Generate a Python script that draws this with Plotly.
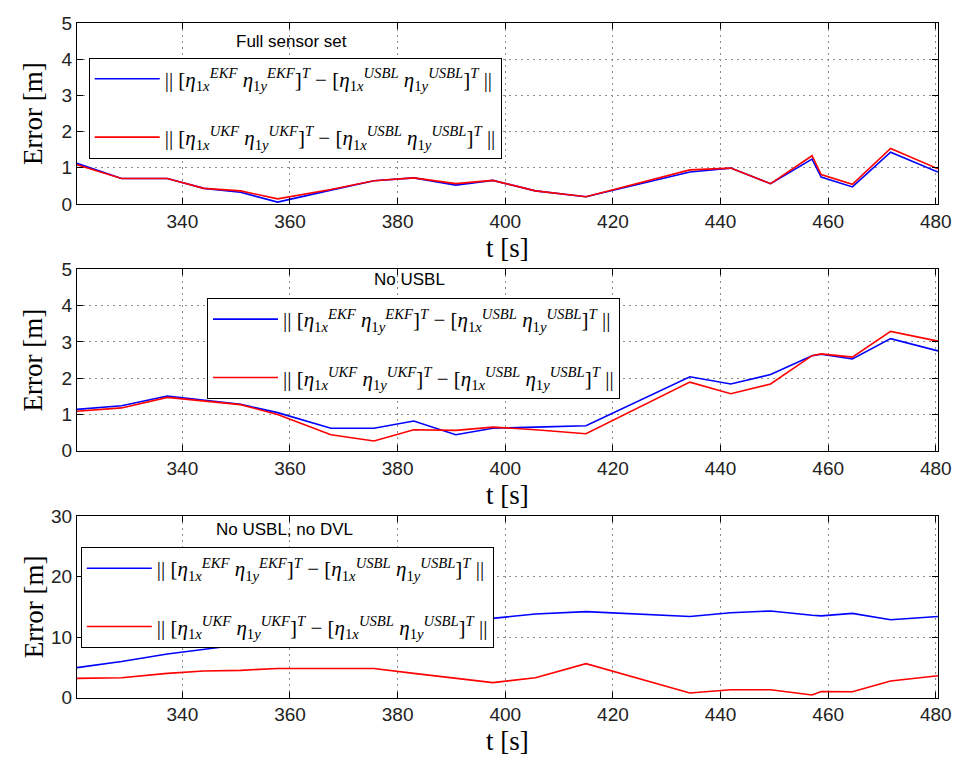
import plotly.graph_objects as go

# time samples [s]
t = [320.4, 328.7, 337.2, 344.0, 350.8, 357.7, 367.6, 375.6, 383.0, 390.8, 397.7,
     405.6, 415.0, 434.3, 441.9, 449.3, 457.0, 458.7, 464.5, 471.6, 480.4]

# Full sensor set
ekf_full = [1.12, 0.70, 0.70, 0.43, 0.32, 0.05, 0.38, 0.64, 0.72, 0.52, 0.65,
            0.36, 0.20, 0.88, 0.99, 0.56, 1.24, 0.74, 0.47, 1.43, 0.88]
ukf_full = [1.08, 0.70, 0.70, 0.43, 0.36, 0.14, 0.40, 0.64, 0.72, 0.56, 0.65,
            0.36, 0.20, 0.94, 0.99, 0.56, 1.33, 0.81, 0.54, 1.53, 0.97]

# No USBL
ekf_nousbl = [1.14, 1.24, 1.51, 1.40, 1.28, 1.05, 0.62, 0.62, 0.82, 0.44, 0.62,
              0.65, 0.69, 2.04, 1.84, 2.10, 2.62, 2.66, 2.53, 3.09, 2.75]
ukf_nousbl = [1.09, 1.18, 1.47, 1.38, 1.27, 1.00, 0.44, 0.27, 0.58, 0.56, 0.65,
              0.58, 0.47, 1.89, 1.57, 1.84, 2.62, 2.67, 2.58, 3.29, 3.02]

# No USBL, no DVL
ekf_nodvl = [4.95, 5.97, 7.20, 8.00, 8.80, 9.50, 10.40, 11.10, 11.80, 12.50, 13.00,
             13.80, 14.20, 13.40, 14.00, 14.30, 13.60, 13.50, 13.90, 12.85, 13.40]
ukf_nodvl = [3.17, 3.28, 4.00, 4.40, 4.50, 4.80, 4.80, 4.80, 4.00, 3.20, 2.47,
             3.28, 5.60, 0.75, 1.30, 1.30, 0.43, 1.00, 0.97, 2.74, 3.60]

panel_titles = ["Full sensor set", "No USBL", "No USBL, no DVL"]
x_ticks = [340, 360, 380, 400, 420, 440, 460, 480]

label_ekf = ("|| [<i>η</i><sub>1<i>x</i></sub><sup><i>EKF</i></sup> <i>η</i><sub>1<i>y</i></sub><sup><i>EKF</i></sup>]<sup><i>T</i></sup>"
             " − [<i>η</i><sub>1<i>x</i></sub><sup><i>USBL</i></sup> <i>η</i><sub>1<i>y</i></sub><sup><i>USBL</i></sup>]<sup><i>T</i></sup> ||")
label_ukf = ("|| [<i>η</i><sub>1<i>x</i></sub><sup><i>UKF</i></sup> <i>η</i><sub>1<i>y</i></sub><sup><i>UKF</i></sup>]<sup><i>T</i></sup>"
             " − [<i>η</i><sub>1<i>x</i></sub><sup><i>USBL</i></sup> <i>η</i><sub>1<i>y</i></sub><sup><i>USBL</i></sup>]<sup><i>T</i></sup> ||")

W, H = 970, 776
x_dom = [78 / W, 951.7 / W]
y_px = [(13.3, 199.3), (266.5, 453.0), (520.0, 706.7)]
y_doms = [[1 - b / H, 1 - a / H] for a, b in y_px]
y_ranges = [[0, 5], [0, 5], [0, 30]]
y_dticks = [1, 1, 10]
legend_pos = [(90 / W, 1 - 49 / H), (210 / W, 1 - 296 / H), (82 / W, 1 - 552 / H)]
title_pos = [(296, 32), (416, 277), (289, 534)]

series = [(ekf_full, ukf_full), (ekf_nousbl, ukf_nousbl), (ekf_nodvl, ukf_nodvl)]

fig = go.Figure()
for i, (ekf, ukf) in enumerate(series):
    sfx = "" if i == 0 else str(i + 1)
    leg = "legend" + sfx
    fig.add_trace(go.Scatter(x=t, y=ekf, mode="lines", name=label_ekf,
                             line=dict(color="#0000ff", width=1.6),
                             xaxis="x" + sfx, yaxis="y" + sfx, legend=leg,
                             legendgroup=f"e{i}"))
    fig.add_trace(go.Scatter(x=t, y=ukf, mode="lines", name=label_ukf,
                             line=dict(color="#ff0000", width=1.6),
                             xaxis="x" + sfx, yaxis="y" + sfx, legend=leg,
                             legendgroup=f"u{i}"))

layout = dict(
    width=W, height=H,
    margin=dict(l=0, r=0, t=0, b=0),
    paper_bgcolor="white", plot_bgcolor="white",
    font=dict(family="Liberation Sans, Arial, sans-serif", size=19, color="black"),
    showlegend=True,
)
annotations = []
axis_common = dict(showline=True, linecolor="black", linewidth=1, mirror="ticks",
                   ticks="inside", ticklen=6, tickcolor="black",
                   showgrid=True, gridcolor="#8c8c8c", gridwidth=1, griddash="2px,4px",
                   zeroline=False, tickfont=dict(size=19, color="#222"))
for i in range(3):
    sfx = "" if i == 0 else str(i + 1)
    layout["xaxis" + sfx] = dict(domain=x_dom, range=[320.4, 480.4], anchor="y" + sfx,
                                 tickvals=x_ticks, **axis_common)
    layout["yaxis" + sfx] = dict(domain=y_doms[i], range=y_ranges[i], anchor="x" + sfx,
                                 dtick=y_dticks[i], tick0=0, **axis_common)
    lx, ly = legend_pos[i]
    layout["legend" + sfx] = dict(x=lx, y=ly, xanchor="left", yanchor="top",
                                  bgcolor="white", bordercolor="black", borderwidth=1,
                                  font=dict(family="Liberation Serif, DejaVu Serif, serif", size=21),
                                  tracegroupgap=28, itemwidth=65)
    a, b = y_px[i]
    annotations.append(dict(text="t [s]", xref="paper", yref="paper",
                            x=515 / W, y=1 - (b + 45) / H, xanchor="center", yanchor="middle",
                            showarrow=False,
                            font=dict(family="Liberation Serif, DejaVu Serif, serif", size=27)))
    annotations.append(dict(text="Error [m]", xref="paper", yref="paper",
                            x=34 / W, y=1 - ((a + b) / 2) / H, xanchor="center", yanchor="middle",
                            textangle=-90, showarrow=False,
                            font=dict(family="Liberation Serif, DejaVu Serif, serif", size=27)))
    tx, ty = title_pos[i]
    annotations.append(dict(text=panel_titles[i], xref="paper", yref="paper",
                            x=tx / W, y=1 - ty / H, xanchor="center", yanchor="middle",
                            showarrow=False,
                            font=dict(family="Liberation Sans, Arial, sans-serif", size=17)))
layout["annotations"] = annotations
fig.update_layout(**layout)

fig.write_html("out.html", config={"displayModeBar": False},
               post_script="document.body.style.margin='0';document.body.style.overflow='hidden';")
